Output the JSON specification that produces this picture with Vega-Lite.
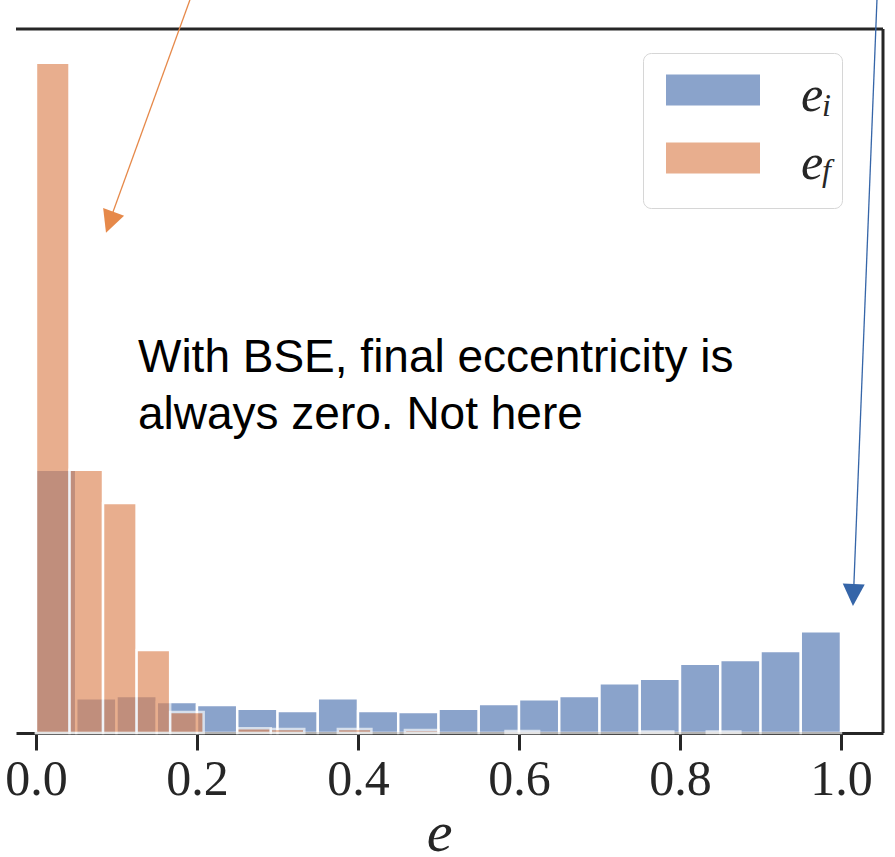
{
  "$schema": "https://vega.github.io/schema/vega-lite/v6.json",
  "width": 867,
  "height": 704,
  "autosize": {"type": "none"},
  "padding": {"left": 16, "top": 29, "right": 12, "bottom": 124},
  "background": "white",
  "config": {"view": {"stroke": null}},
  "datasets": {
    "hist": [
      {"series": "e_i", "sub": "i", "lo": 0.00, "hi": 0.05, "density": 4.91},
      {"series": "e_i", "sub": "i", "lo": 0.05, "hi": 0.10, "density": 0.65},
      {"series": "e_i", "sub": "i", "lo": 0.10, "hi": 0.15, "density": 0.69},
      {"series": "e_i", "sub": "i", "lo": 0.15, "hi": 0.20, "density": 0.58},
      {"series": "e_i", "sub": "i", "lo": 0.20, "hi": 0.25, "density": 0.52},
      {"series": "e_i", "sub": "i", "lo": 0.25, "hi": 0.30, "density": 0.45},
      {"series": "e_i", "sub": "i", "lo": 0.30, "hi": 0.35, "density": 0.41},
      {"series": "e_i", "sub": "i", "lo": 0.35, "hi": 0.40, "density": 0.65},
      {"series": "e_i", "sub": "i", "lo": 0.40, "hi": 0.45, "density": 0.41},
      {"series": "e_i", "sub": "i", "lo": 0.45, "hi": 0.50, "density": 0.39},
      {"series": "e_i", "sub": "i", "lo": 0.50, "hi": 0.55, "density": 0.45},
      {"series": "e_i", "sub": "i", "lo": 0.55, "hi": 0.60, "density": 0.54},
      {"series": "e_i", "sub": "i", "lo": 0.60, "hi": 0.65, "density": 0.63},
      {"series": "e_i", "sub": "i", "lo": 0.65, "hi": 0.70, "density": 0.69},
      {"series": "e_i", "sub": "i", "lo": 0.70, "hi": 0.75, "density": 0.93},
      {"series": "e_i", "sub": "i", "lo": 0.75, "hi": 0.80, "density": 1.01},
      {"series": "e_i", "sub": "i", "lo": 0.80, "hi": 0.85, "density": 1.29},
      {"series": "e_i", "sub": "i", "lo": 0.85, "hi": 0.90, "density": 1.36},
      {"series": "e_i", "sub": "i", "lo": 0.90, "hi": 0.95, "density": 1.53},
      {"series": "e_i", "sub": "i", "lo": 0.95, "hi": 1.00, "density": 1.90},
      {"series": "e_f", "sub": "f", "lo": 0.0000, "hi": 0.0417, "density": 12.50},
      {"series": "e_f", "sub": "f", "lo": 0.0417, "hi": 0.0833, "density": 4.91},
      {"series": "e_f", "sub": "f", "lo": 0.0833, "hi": 0.1250, "density": 4.29},
      {"series": "e_f", "sub": "f", "lo": 0.1250, "hi": 0.1667, "density": 1.55},
      {"series": "e_f", "sub": "f", "lo": 0.1667, "hi": 0.2083, "density": 0.39},
      {"series": "e_f", "sub": "f", "lo": 0.2500, "hi": 0.2917, "density": 0.09},
      {"series": "e_f", "sub": "f", "lo": 0.2917, "hi": 0.3333, "density": 0.075},
      {"series": "e_f", "sub": "f", "lo": 0.3750, "hi": 0.4167, "density": 0.075},
      {"series": "e_f", "sub": "f", "lo": 0.4583, "hi": 0.5000, "density": 0.056},
      {"series": "e_f", "sub": "f", "lo": 0.5833, "hi": 0.6250, "density": 0.037},
      {"series": "e_f", "sub": "f", "lo": 0.7500, "hi": 0.7917, "density": 0.028},
      {"series": "e_f", "sub": "f", "lo": 0.8333, "hi": 0.8750, "density": 0.028}
    ],
    "notes": [
      {"note": "With BSE, final eccentricity is\nalways zero. Not here"}
    ]
  },
  "layer": [
    {
      "data": {"name": "hist"},
      "mark": {"type": "bar", "stroke": "white", "strokeWidth": 2.5, "strokeOpacity": 1},
      "encoding": {
        "x": {
          "field": "lo", "type": "quantitative",
          "scale": {"domain": [-0.0248, 1.0522], "nice": false, "zero": false},
          "axis": {
            "orient": "bottom",
            "values": [0, 0.2, 0.4, 0.6, 0.8, 1.0],
            "format": ".1f",
            "grid": false,
            "domainColor": "#262626", "domainWidth": 3,
            "tickColor": "#262626", "tickWidth": 3, "tickSize": 17,
            "labelFont": "Liberation Serif", "labelFontSize": 50, "labelColor": "#262626",
            "labelPadding": 4, "labelFlush": false, "labelOverlap": false,
            "title": "e",
            "titleFont": "Liberation Serif", "titleFontStyle": "italic", "titleFontWeight": "normal",
            "titleFontSize": 58, "titleColor": "#262626", "titlePadding": 0, "titleX": 423
          }
        },
        "x2": {"field": "hi"},
        "y": {
          "field": "density", "type": "quantitative",
          "scale": {"domain": [0, 13.13], "nice": false},
          "axis": null
        },
        "y2": {"datum": 0},
        "color": {
          "field": "series", "type": "nominal", "sort": null,
          "scale": {"range": ["#4C72B0", "#DD8452"]},
          "legend": {
            "orient": "none", "legendX": 627, "legendY": 24,
            "title": null,
            "labelExpr": "'e'",
            "labelFont": "Liberation Serif", "labelFontStyle": "italic", "labelFontSize": 50,
            "labelColor": "#262626",
            "symbolType": "M-0.875,-0.695H2.094V0.305H-0.875Z",
            "symbolSize": 4096,
            "symbolOpacity": 0.65,
            "symbolStrokeColor": "white", "symbolStrokeWidth": 1,
            "clipHeight": 50.5,
            "labelOffset": 75, "rowPadding": 17, "padding": 18,
            "strokeColor": "#d6d6d6", "cornerRadius": 8, "fillColor": "#ffffff"
          }
        },
        "opacity": {
          "field": "sub", "type": "nominal", "sort": null,
          "scale": {"range": [0.65, 0.65]},
          "legend": {
            "orient": "none", "legendX": 774, "legendY": 60.75,
            "title": null,
            "symbolSize": 0, "symbolFillColor": "transparent", "symbolStrokeColor": "transparent", "symbolStrokeWidth": 0,
            "labelFont": "Liberation Serif", "labelFontStyle": "italic", "labelFontSize": 32,
            "labelColor": "#262626",
            "labelOffset": 0, "rowPadding": 33.7, "padding": 0
          }
        }
      }
    },
    {
      "data": {"values": [{}]},
      "mark": {"type": "rule", "color": "#262626", "strokeWidth": 3},
      "encoding": {
        "y": {"datum": 13.13, "type": "quantitative", "axis": null}
      }
    },
    {
      "data": {"values": [{}]},
      "mark": {"type": "rule", "color": "#262626", "strokeWidth": 3},
      "encoding": {
        "x": {"datum": 1.0522, "type": "quantitative"}
      }
    },
    {
      "data": {"name": "notes"},
      "mark": {"type": "text", "align": "left", "baseline": "alphabetic", "font": "Liberation Sans", "fontSize": 46, "lineHeight": 57, "lineBreak": "\n", "color": "black"},
      "encoding": {
        "x": {"datum": 0.1267, "type": "quantitative"},
        "y": {"datum": 6.735, "type": "quantitative", "axis": null},
        "text": {"field": "note"}
      }
    },
    {
      "data": {"values": [{}]},
      "mark": {"type": "rule", "color": "#E6894A", "strokeWidth": 1.3},
      "encoding": {
        "x": {"datum": 0.1913, "type": "quantitative"},
        "y": {"datum": 13.675, "type": "quantitative", "axis": null},
        "x2": {"datum": 0.0880},
        "y2": {"datum": 9.40}
      }
    },
    {
      "data": {"values": [{}]},
      "mark": {"type": "point", "shape": "M0,0L-0.5,-1L0.5,-1Z", "filled": true, "size": 1989, "angle": 20, "color": "#E6894A", "opacity": 1, "strokeWidth": 0},
      "encoding": {
        "x": {"datum": 0.0870, "type": "quantitative"},
        "y": {"datum": 9.328, "type": "quantitative", "axis": null}
      }
    },
    {
      "data": {"values": [{}]},
      "mark": {"type": "rule", "color": "#3565A8", "strokeWidth": 1.3},
      "encoding": {
        "x": {"datum": 1.0447, "type": "quantitative"},
        "y": {"datum": 13.675, "type": "quantitative", "axis": null},
        "x2": {"datum": 1.0152},
        "y2": {"datum": 2.45}
      }
    },
    {
      "data": {"values": [{}]},
      "mark": {"type": "point", "shape": "M0,0L-0.5,-1L0.5,-1Z", "filled": true, "size": 1936, "angle": 2, "color": "#3565A8", "opacity": 1, "strokeWidth": 0},
      "encoding": {
        "x": {"datum": 1.0149, "type": "quantitative"},
        "y": {"datum": 2.369, "type": "quantitative", "axis": null}
      }
    }
  ]
}
